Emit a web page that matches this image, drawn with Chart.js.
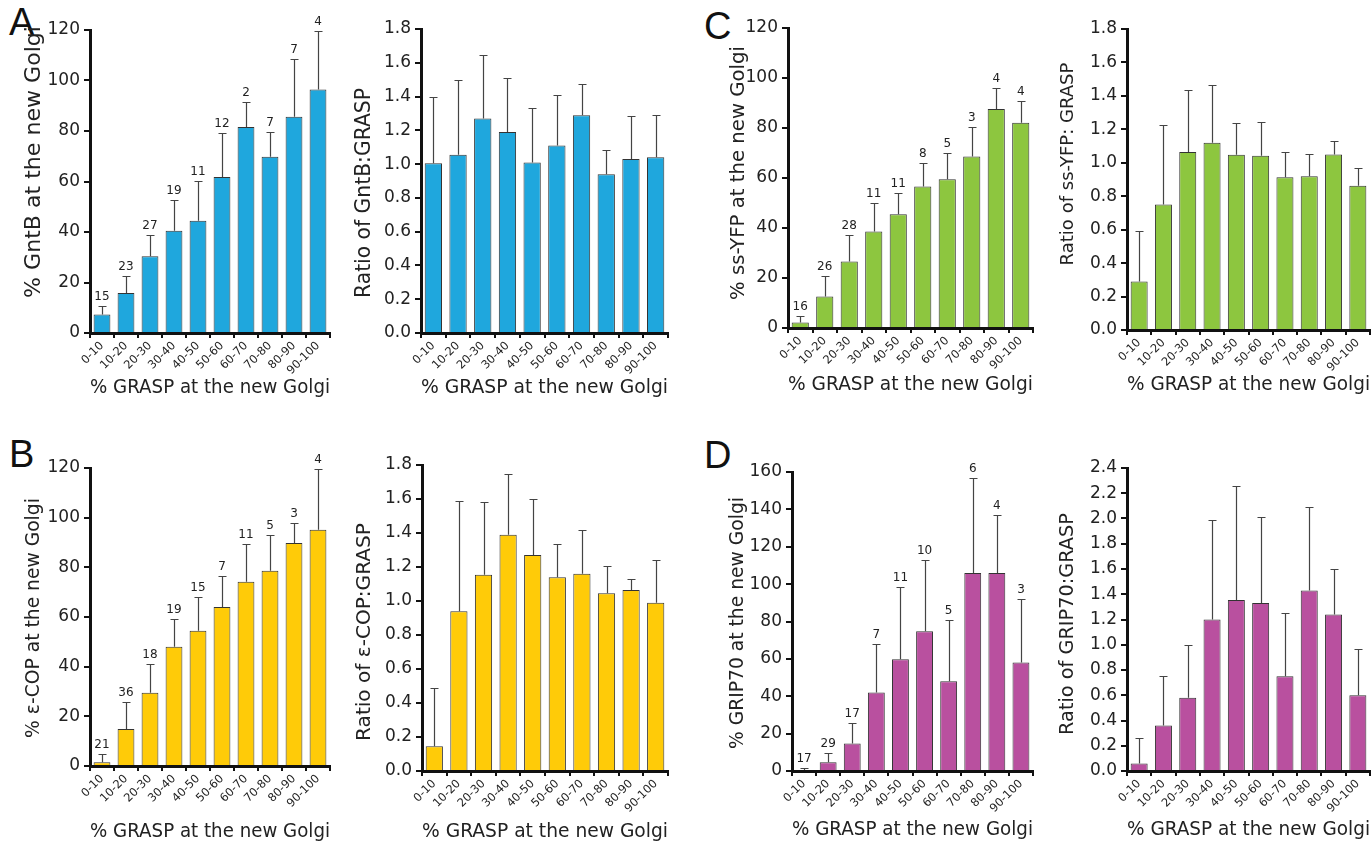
<!DOCTYPE html>
<html>
<head>
<meta charset="utf-8">
<script src="https://cdn.jsdelivr.net/npm/chart.js@4.4.1/dist/chart.umd.min.js"></script>
<style>
  html, body { margin: 0; padding: 0; background: #fff; }
  body { width: 1372px; height: 844px; position: relative; overflow: hidden; }
  .panel { position: absolute; }
  .letter { position: absolute; font-family: 'Liberation Sans', Arial, sans-serif; font-size: 38px; line-height: 38px; color: #111; }
</style>
</head>
<body>
<div class="letter" style="left:9px;top:3px">A</div>
<div class="letter" style="left:9px;top:435px">B</div>
<div class="letter" style="left:704px;top:7px">C</div>
<div class="letter" style="left:704px;top:436px">D</div>
<script>
// --- data ---
var categories = ['0-10', '10-20', '20-30', '30-40', '40-50', '50-60', '60-70', '70-80', '80-90', '90-100'];

var pctTicks120 = [0, 20, 40, 60, 80, 100, 120];
var pctTicks160 = [0, 20, 40, 60, 80, 100, 120, 140, 160];
var ratioTicks18 = [0, 0.2, 0.4, 0.6, 0.8, 1.0, 1.2, 1.4, 1.6, 1.8];
var ratioTicks24 = [0, 0.2, 0.4, 0.6, 0.8, 1.0, 1.2, 1.4, 1.6, 1.8, 2.0, 2.2, 2.4];

// A: GntB
var gntbPct = [7.3, 15.8, 30.4, 40.5, 44.5, 61.8, 81.6, 69.8, 85.6, 96.4];
var gntbPctErr = [10.8, 22.7, 38.7, 52.5, 60.2, 79.2, 91.5, 79.8, 108.6, 119.7];
var gntbN = [15, 23, 27, 19, 11, 12, 2, 7, 7, 4];
var gntbRatio = [1.005, 1.055, 1.27, 1.19, 1.01, 1.11, 1.29, 0.94, 1.03, 1.04];
var gntbRatioErr = [1.40, 1.50, 1.645, 1.51, 1.335, 1.41, 1.475, 1.085, 1.285, 1.29];

// B: e-COP
var ecopPct = [1.5, 14.9, 29.5, 48, 54.5, 64, 74.2, 78.6, 89.8, 95.1];
var ecopPctErr = [4.7, 25.7, 40.9, 59.3, 68, 76.4, 89.2, 93.2, 97.9, 119.7];
var ecopN = [21, 36, 18, 19, 15, 7, 11, 5, 3, 4];
var ecopRatio = [0.145, 0.94, 1.155, 1.39, 1.27, 1.14, 1.16, 1.045, 1.065, 0.99];
var ecopRatioErr = [0.49, 1.59, 1.58, 1.745, 1.60, 1.335, 1.42, 1.205, 1.13, 1.24];

// C: ss-YFP
var ssyfpPct = [2.2, 12.6, 26.6, 38.6, 45.5, 56.6, 59.5, 68.6, 87.6, 82.1];
var ssyfpPctErr = [4.7, 21, 37.2, 50, 54, 66.2, 70, 80.5, 96.2, 90.9];
var ssyfpN = [16, 26, 28, 11, 11, 8, 5, 3, 4, 4];
var ssyfpRatio = [0.29, 0.75, 1.065, 1.12, 1.048, 1.042, 0.913, 0.92, 1.05, 0.863];
var ssyfpRatioErr = [0.59, 1.228, 1.437, 1.467, 1.238, 1.242, 1.065, 1.055, 1.128, 0.97];

// D: GRIP70
var grip70Pct = [0.5, 4.7, 14.7, 42, 59.8, 74.8, 48, 106, 106, 58];
var grip70PctErr = [1.8, 9.8, 25.8, 68.2, 98.5, 113, 81, 156.8, 136.8, 92.2];
var grip70N = [17, 29, 17, 7, 11, 10, 5, 6, 4, 3];
var grip70Ratio = [0.06, 0.36, 0.58, 1.20, 1.355, 1.33, 0.75, 1.43, 1.24, 0.60];
var grip70RatioErr = [0.26, 0.75, 1.00, 1.99, 2.26, 2.01, 1.25, 2.09, 1.60, 0.97];

var BLUE = '#1fa7dd', YELLOW = '#ffcb08', GREEN = '#8dc63f', MAGENTA = '#b9509f';
var FONT = "'DejaVu Sans', Verdana, sans-serif";
var xTitle = '% GRASP at the new Golgi';

// box: [left, top, width, height]  area: [left, top, right, bottom]  yt: [centreX, centreY, length]
var panels = [
  { box: [0, 0, 340, 399], area: [90, 30, 330, 333], values: gntbPct, errors: gntbPctErr, counts: gntbN, ticks: pctTicks120, dec: 0, color: BLUE, yTitle: '% GntB at the new Golgi', yt: [34, 162, 272] },
  { box: [340, 0, 340, 399], area: [421, 29, 668, 333], values: gntbRatio, errors: gntbRatioErr, ticks: ratioTicks18, dec: 1, color: BLUE, yTitle: 'Ratio of GntB:GRASP', yt: [365, 193, 210] },
  { box: [680, 0, 365, 396], area: [788, 28, 1033, 328], values: ssyfpPct, errors: ssyfpPctErr, counts: ssyfpN, ticks: pctTicks120, dec: 0, color: GREEN, yTitle: '% ss-YFP at the new Golgi', yt: [739, 173, 254] },
  { box: [1045, 0, 327, 396], area: [1127, 29, 1370, 330], values: ssyfpRatio, errors: ssyfpRatioErr, ticks: ratioTicks18, dec: 1, color: GREEN, yTitle: 'Ratio of ss-YFP: GRASP', yt: [1068, 164, 203] },
  { box: [0, 420, 340, 423], area: [90, 468, 330, 766], values: ecopPct, errors: ecopPctErr, counts: ecopN, ticks: pctTicks120, dec: 0, color: YELLOW, yTitle: '% \u03b5-COP at the new Golgi', yt: [34, 618, 240] },
  { box: [340, 420, 340, 423], area: [422, 465, 668, 771], values: ecopRatio, errors: ecopRatioErr, ticks: ratioTicks18, dec: 1, color: YELLOW, yTitle: 'Ratio of \u03b5-COP:GRASP', yt: [365, 632, 218] },
  { box: [680, 420, 365, 421], area: [792, 472, 1033, 771], values: grip70Pct, errors: grip70PctErr, counts: grip70N, ticks: pctTicks160, dec: 0, color: MAGENTA, yTitle: '% GRIP70 at the new Golgi', yt: [738, 623, 252] },
  { box: [1045, 420, 327, 421], area: [1127, 468, 1370, 771], values: grip70Ratio, errors: grip70RatioErr, ticks: ratioTicks24, dec: 1, color: MAGENTA, yTitle: 'Ratio of GRIP70:GRASP', yt: [1068, 624, 222] }
];

function makeChart(p) {
    var div = document.createElement('div');
    div.className = 'panel';
    div.style.left = p.box[0] + 'px';
    div.style.top = p.box[1] + 'px';
    div.style.width = p.box[2] + 'px';
    div.style.height = p.box[3] + 'px';
    var canvas = document.createElement('canvas');
    canvas.width = p.box[2];
    canvas.height = p.box[3];
    div.appendChild(canvas);
    document.body.appendChild(div);

    var yWidth = p.area[0] - p.box[0];
    var xHeight = p.box[1] + p.box[3] - p.area[3];

    // upper error bars + n above them
    var errorBars = {
        id: 'errorBars',
        afterDatasetsDraw: function(chart) {
            var ctx = chart.ctx, y = chart.scales.y;
            var meta = chart.getDatasetMeta(0);
            ctx.save();
            ctx.strokeStyle = '#444';
            ctx.lineWidth = 1.2;
            ctx.fillStyle = '#222';
            ctx.font = '12px ' + FONT;
            ctx.textAlign = 'center';
            ctx.textBaseline = 'alphabetic';
            meta.data.forEach(function(bar, i) {
                var top = Math.round(y.getPixelForValue(p.errors[i])) + 0.5;
                var x = Math.round(bar.x) + 0.5;
                ctx.beginPath();
                ctx.moveTo(x, bar.y);
                ctx.lineTo(x, top);
                ctx.moveTo(x - 4, top);
                ctx.lineTo(x + 4, top);
                ctx.stroke();
                if (p.counts) ctx.fillText(String(p.counts[i]), bar.x, top - 7);
            });
            ctx.restore();
        }
    };

    // vertical axis title, placed where the figure has it
    var yTitle = {
        id: 'yTitle',
        afterDraw: function(chart) {
            var ctx = chart.ctx;
            ctx.save();
            ctx.font = '20px ' + FONT;
            var size = 20 * p.yt[2] / ctx.measureText(p.yTitle).width;
            ctx.font = size.toFixed(2) + 'px ' + FONT;
            ctx.fillStyle = '#222';
            ctx.textAlign = 'center';
            ctx.textBaseline = 'middle';
            ctx.translate(p.yt[0] - p.box[0], p.yt[1] - p.box[1]);
            ctx.rotate(-Math.PI / 2);
            ctx.fillText(p.yTitle, 0, 0);
            ctx.restore();
        }
    };

    new Chart(canvas, {
        type: 'bar',
        data: {
            labels: categories,
            datasets: [{
                data: p.values,
                backgroundColor: p.color,
                borderColor: '#333',
                borderWidth: 1,
                categoryPercentage: 1,
                barPercentage: 0.7
            }]
        },
        options: {
            responsive: false,
            animation: false,
            events: [],
            layout: { padding: { top: p.area[1] - p.box[1], right: p.box[0] + p.box[2] - p.area[2], left: 0, bottom: 0 } },
            plugins: { legend: { display: false }, tooltip: { enabled: false } },
            scales: {
                x: {
                    grid: { offset: true, drawOnChartArea: false, tickLength: 5, color: '#111', lineWidth: 2 },
                    border: { color: '#111', width: 3 },
                    ticks: { minRotation: 45, maxRotation: 45, autoSkip: false, padding: 1, color: '#222', font: { family: FONT, size: 11.5 } },
                    title: { display: true, text: xTitle, color: '#222', padding: 0, font: { family: FONT, size: 19 } },
                    afterFit: function(s) { s.height = xHeight; }
                },
                y: {
                    min: 0,
                    max: p.ticks[p.ticks.length - 1],
                    afterBuildTicks: function(s) { s.ticks = p.ticks.map(function(v) { return { value: v }; }); },
                    grid: { drawOnChartArea: false, tickLength: 6, color: '#111', lineWidth: 2 },
                    border: { color: '#111', width: 3 },
                    ticks: {
                        padding: 4, color: '#222', font: { family: FONT, size: 17 },
                        callback: function(v) { return Number(v).toFixed(p.dec); }
                    },
                    afterFit: function(s) { s.width = yWidth; }
                }
            }
        },
        plugins: [errorBars, yTitle]
    });
}

panels.forEach(makeChart);
</script>
</body>
</html>
